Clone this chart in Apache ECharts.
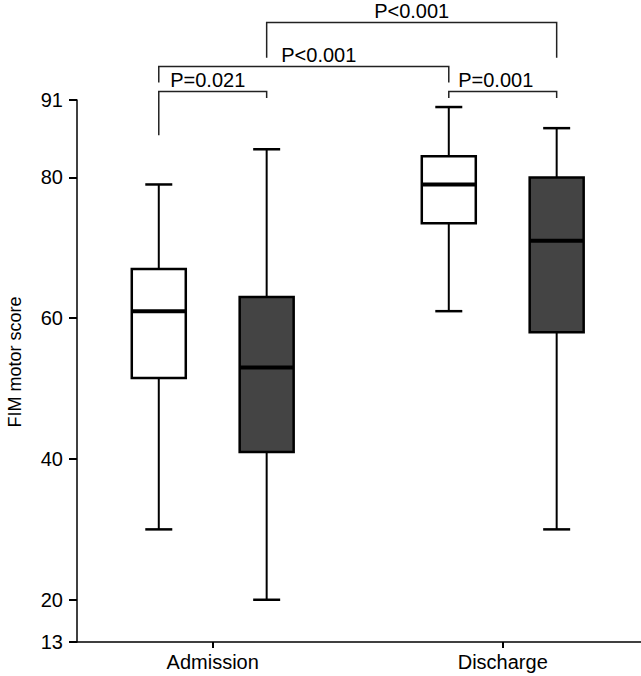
<!DOCTYPE html>
<html><head><meta charset="utf-8">
<script src="https://cdn.jsdelivr.net/npm/echarts@6/dist/echarts.min.js"></script>
<style>html,body{margin:0;padding:0;background:#fff}#c{width:641px;height:676px}</style>
</head><body><div id="c"></div>
<script>
// ---------- data ----------
const categories = ['Admission', 'Discharge'];
// [min, Q1, median, Q3, max]
const whiteBoxes = [[30, 51.5, 61, 67, 79], [61, 73.5, 79, 83, 90]];
const darkBoxes  = [[20, 41, 53, 63, 84], [30, 58, 71, 80, 87]];
const yTickValues = [14, 20, 40, 60, 80, 91];
const yTickLabels = ['13', '20', '40', '60', '80', '91'];
const pLabels = ['P<0.001', 'P<0.001', 'P=0.021', 'P=0.001'];
// bracket endpoints: [category, group(0 white / 1 dark)] pairs
const bracketFrom = [[0, 1], [0, 0], [0, 0], [1, 0]];
const bracketTo   = [[1, 1], [1, 0], [0, 1], [1, 1]];

// ---------- layout / style ----------
const FONT = 'Liberation Sans, Arial, sans-serif';
const groupShift = [-0.186, 0.186];
const fills = ['#ffffff', '#444444'];
const bracketLevels = [ // [lineY, leftLegEndY, rightLegEndY] in axis units
  [102.0, 97.0, 97.0],
  [95.75, 93.5, 93.5],
  [92.2, 86.0, 91.3],
  [92.2, 91.3, 91.3]
];
const labelDx = [0, 15, -5, -7];

const chart = echarts.init(document.getElementById('c'), null, {renderer: 'svg'});

function boxSeries(g, values) {
  return {
    type: 'custom',
    clip: false,
    xAxisIndex: 0, yAxisIndex: 0,
    encode: {x: 0, y: [1, 2, 3, 4, 5]},
    data: values.map((v, i) => [i, ...v]),
    renderItem: function (params, api) {
      const idx = api.value(0);
      const cx = api.coord([idx + groupShift[g], 50])[0];
      const y = k => api.coord([idx, api.value(k)])[1];
      const yMin = y(1), yQ1 = y(2), yMed = y(3), yQ3 = y(4), yMax = y(5);
      const hw = 27, cap = 13.5;
      const st = w => ({stroke: '#000', lineWidth: w, fill: null});
      return {type: 'group', children: [
        {type: 'line', shape: {x1: cx, y1: yMax, x2: cx, y2: yQ3}, style: st(2)},
        {type: 'line', shape: {x1: cx, y1: yQ1, x2: cx, y2: yMin}, style: st(2)},
        {type: 'line', shape: {x1: cx - cap, y1: yMax, x2: cx + cap, y2: yMax}, style: st(2.5)},
        {type: 'line', shape: {x1: cx - cap, y1: yMin, x2: cx + cap, y2: yMin}, style: st(2.5)},
        {type: 'rect', shape: {x: cx - hw, y: yQ3, width: 2 * hw, height: yQ1 - yQ3},
          style: {fill: fills[g], stroke: '#000', lineWidth: 2.5}},
        {type: 'line', shape: {x1: cx - hw, y1: yMed, x2: cx + hw, y2: yMed}, style: st(4)}
      ]};
    }
  };
}

const bracketData = pLabels.map((t, i) => [
  bracketFrom[i][0] + groupShift[bracketFrom[i][1]],
  bracketTo[i][0] + groupShift[bracketTo[i][1]],
  bracketLevels[i][0], bracketLevels[i][1], bracketLevels[i][2], i
]);

const bracketSeries = {
  type: 'custom',
  clip: false,
  silent: true,
  encode: {x: [0, 1], y: [2, 3, 4]},
  data: bracketData,
  renderItem: function (params, api) {
    const x1 = api.value(0), x2 = api.value(1);
    const ly = api.value(2), le = api.value(3), re = api.value(4);
    const i = api.value(5);
    const p1 = api.coord([x1, le]), p2 = api.coord([x1, ly]);
    const p3 = api.coord([x2, ly]), p4 = api.coord([x2, re]);
    return {type: 'group', children: [
      {type: 'polyline', shape: {points: [p1, p2, p3, p4]},
        style: {stroke: '#222', lineWidth: 1.5, fill: null}},
      {type: 'text', x: (p2[0] + p3[0]) / 2 + labelDx[i], y: p2[1] - 12,
        style: {text: pLabels[i], fill: '#000', font: '20px ' + FONT,
          textAlign: 'center', textVerticalAlign: 'middle'}}
    ]};
  }
};

chart.setOption({
  animation: false,
  backgroundColor: '#fff',
  grid: {left: 77, right: 0, top: 100, bottom: 34, outerBoundsMode: 'none', containLabel: false},
  xAxis: [{
    type: 'value', min: -0.468, max: 1.4768,
    axisLine: {show: true, onZero: false, lineStyle: {color: '#000', width: 1.5}},
    axisTick: {show: true, customValues: [0, 1], length: 6, lineStyle: {color: '#000', width: 2}},
    axisLabel: {customValues: [0, 1], formatter: v => categories[Math.round(v)] || '',
      fontSize: 20, color: '#000', fontFamily: FONT, margin: 10},
    splitLine: {show: false}
  }],
  yAxis: [{
    type: 'value', min: 14, max: 91,
    name: 'FIM motor score', nameLocation: 'middle', nameGap: 53,
    nameTextStyle: {fontSize: 18, color: '#000', fontFamily: FONT, padding: [0, 0, 0, 18]},
    axisLine: {show: true, onZero: false, lineStyle: {color: '#000', width: 1.5}},
    axisTick: {show: true, customValues: yTickValues, length: 8, lineStyle: {color: '#000', width: 2}},
    axisLabel: {customValues: yTickValues,
      formatter: v => yTickLabels[yTickValues.indexOf(v)] || '',
      fontSize: 20, color: '#000', fontFamily: FONT, margin: 14},
    splitLine: {show: false}
  }],
  series: [boxSeries(0, whiteBoxes), boxSeries(1, darkBoxes), bracketSeries]
});
</script>
</body></html>
